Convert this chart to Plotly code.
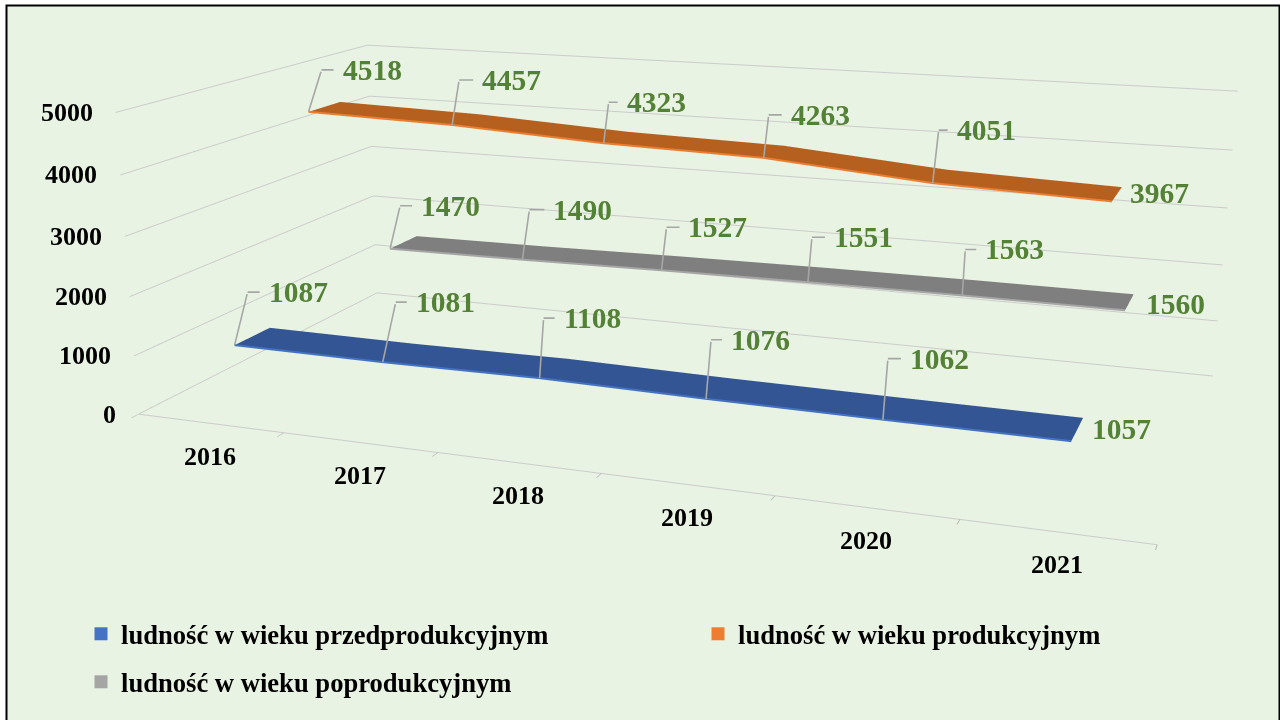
import plotly.graph_objects as go

years = [2016, 2017, 2018, 2019, 2020, 2021]
przed = [1087, 1081, 1108, 1076, 1062, 1057]
prod = [4518, 4457, 4323, 4263, 4051, 3967]
po = [1470, 1490, 1527, 1551, 1563, 1560]
names = ["ludność w wieku przedprodukcyjnym", "ludność w wieku produkcyjnym", "ludność w wieku poprodukcyjnym"]
z_ticks = [0, 1000, 2000, 3000, 4000, 5000]

# Plotly's 3D camera has a fixed 45 degree field of view; the reference's flatter
# perspective needs a larger scene, which the page then offsets into the window.
FW, FH, LEFT, TOP = 2930, 1648, 825, 464
def px(x): return (x + LEFT) / FW
def py(y): return 1 - (y + TOP) / FH

eye = (1.2736, -3.7198, 0.9449); center = (-0.0509, -0.1717, -0.1877); up = (-0.0167, 0.0449, 1)
aspect = (2, 1.0240, 0.6103)

series = [
    dict(v=przed, y=[0.103, 0.237], top="#335593", edge="#4472C4", name=names[0], legend="legend", lx=81, ly=634),
    dict(v=prod, y=[0.433, 0.567], top="#B5601F", edge="#ED7D31", name=names[1], legend="legend2", lx=698, ly=634),
    dict(v=po, y=[0.767, 0.900], top="#7F7F7F", edge="#A5A5A5", name=names[2], legend="legend3", lx=81, ly=682),
]
GREEN = "#538135"; GRID = "#CBCBCB"; LEADER = "#A6A6A6"; FONT = "Liberation Serif"

leader = {
    0: [(13,-53,12),(13,-60,11),(4,-60,11),(5,-59,11),(5,-61,13),None],
    1: [(13,-42,12),(7,-45,14),(5,-41,9),(5,-43,13),(6,-53,9),None],
    2: [(10,-43,12),(7,-50,15),(5,-43,13),(4,-45,13),(3,-46,11),None],
}
end_shift = {0: (19, -12), 1: (16, -8), 2: (19, -6)}

fig = go.Figure()
ann = []
for si, s in enumerate(series):
    fig.add_trace(go.Surface(x=years, y=s["y"], z=[s["v"], s["v"]], showscale=False, hoverinfo="skip",
                             colorscale=[[0, s["top"]], [1, s["top"]]],
                             lighting=dict(ambient=1, diffuse=0, specular=0, fresnel=0, roughness=1)))
    fig.add_trace(go.Scatter3d(x=years, y=[s["y"][0]] * 6, z=s["v"], mode="lines", showlegend=False, hoverinfo="skip",
                               line=dict(color=s["edge"], width=4)))
    fig.add_trace(go.Scatter3d(x=[None], y=[None], z=[None], mode="markers", name=s["name"], showlegend=True,
                               legend=s["legend"], hoverinfo="skip",
                               marker=dict(size=13, symbol="square", color=s["edge"])))
    for i, yr in enumerate(years):
        base = dict(x=yr, y=s["y"][0], z=s["v"][i], font=dict(family=FONT, size=29.5, color=GREEN, weight="bold"))
        off = leader[si][i]
        if off is None:
            ann.append(dict(base, text=str(s["v"][i]), showarrow=False, xanchor="left", yanchor="middle",
                            xshift=end_shift[si][0], yshift=-end_shift[si][1]))
            continue
        dx, dy, hl = off
        ann.append(dict(x=yr, y=s["y"][0], z=s["v"][i], text=" ", showarrow=True, ax=dx, ay=dy, arrowhead=0,
                        arrowwidth=1.6, arrowcolor=LEADER, standoff=0, font=dict(size=1)))
        ann.append(dict(base, text=str(s["v"][i]), showarrow=True, ax=hl, ay=0, arrowhead=0, arrowwidth=1.6,
                        arrowcolor=LEADER, standoff=0, xanchor="left", yanchor="middle", borderpad=8,
                        xshift=dx, yshift=-dy))
for yr in years:
    ann.append(dict(x=yr, y=0, z=0, text=str(yr), showarrow=False, yshift=-33, yanchor="middle", xanchor="center",
                    font=dict(family=FONT, size=26, color="black", weight="bold")))
for zv in z_ticks:
    ann.append(dict(x=years[0] - .5, y=0, z=zv, text=str(zv), showarrow=False, xshift=-21, xanchor="right", yanchor="middle",
                    font=dict(family=FONT, size=26, color="black", weight="bold")))

axis_common = dict(showbackground=False, title="", showticklabels=False, showspikes=False, zeroline=False)
def legend_at(s):
    return dict(x=px(s["lx"]), y=py(s["ly"]), xanchor="left", yanchor="middle", bgcolor="rgba(0,0,0,0)",
                font=dict(family=FONT, size=26.6, color="black", weight="bold"))
fig.update_layout(
    width=FW, height=FH, margin=dict(l=0, r=0, t=0, b=0), paper_bgcolor="white", showlegend=True,
    legend=legend_at(series[0]), legend2=legend_at(series[1]), legend3=legend_at(series[2]),
    shapes=[dict(type="rect", xref="paper", yref="paper", x0=px(6.5), x1=px(1279.5), y0=py(760), y1=py(5.5),
                 line=dict(color="black", width=2), fillcolor="#E9F3E3", layer="below")],
    scene=dict(
        domain=dict(x=[0, 1], y=[0, 1]), aspectmode="manual", hovermode=False,
        aspectratio=dict(x=aspect[0], y=aspect[1], z=aspect[2]),
        camera=dict(eye=dict(x=eye[0], y=eye[1], z=eye[2]), center=dict(x=center[0], y=center[1], z=center[2]),
                    up=dict(x=up[0], y=up[1], z=up[2]), projection=dict(type="perspective")),
        xaxis=dict(axis_common, range=[years[0] - .5, years[-1] + .5], showgrid=False, showline=True, linecolor=GRID, linewidth=2,
                   tickvals=[y - .5 for y in years] + [years[-1] + .5], ticks="outside", ticklen=8, tickcolor="#B5B5B5", tickwidth=2),
        yaxis=dict(axis_common, range=[0, 1], showgrid=False, ticks="", showline=False),
        zaxis=dict(axis_common, range=[0, 5000], tickvals=z_ticks, gridcolor=GRID, gridwidth=2, ticks="", showline=False),
        annotations=ann,
    ),
)
fig.write_html("out.html", post_script=f"document.documentElement.style.overflow='hidden';document.body.style.margin='0';"
               f"var g=document.getElementsByClassName('plotly-graph-div')[0];g.style.position='absolute';g.style.left='{-LEFT}px';g.style.top='{-TOP}px';")
